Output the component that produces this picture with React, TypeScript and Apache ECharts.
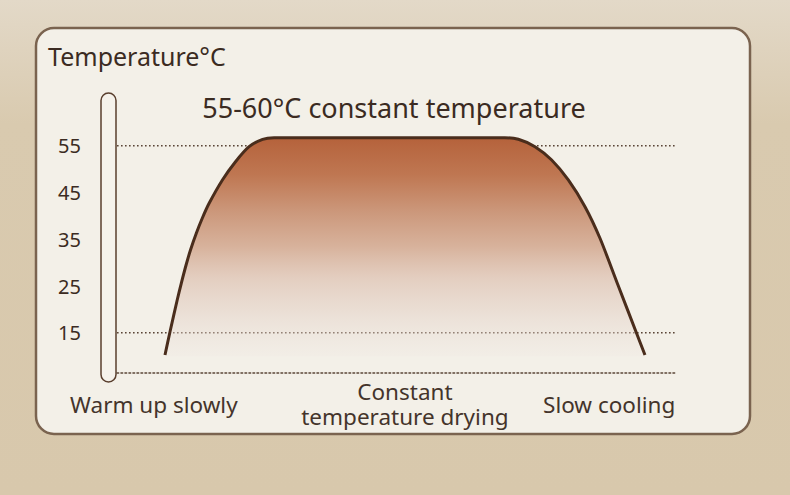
import React, { useEffect, useRef } from "react";
import * as echarts from "echarts";

// Curve: time position (0-100 across the plot) and temperature (°C)
const TIME_POINTS = [
  8.6, 9.5, 10.79, 11.52, 12.38, 13.17, 14.23, 15.3, 16.51, 18.89, 21.24, 23.67, 26.09, 28.14,
  69.5, 71.92, 74.91, 77.9, 80.88, 83.87, 86.56, 89.78, 93.01, 94.62,
];
const TEMPERATURES = [
  10.25, 15.23, 22.01, 25.59, 29.5, 32.71, 36.34, 39.55, 42.69, 47.68, 51.59, 54.8, 56.38, 56.72,
  56.72, 56.38, 54.8, 51.95, 47.68, 41.97, 35.21, 25.22, 15.23, 10.25,
];

const Y_TICKS = [15, 25, 35, 45, 55];
const GUIDE_LEVELS = [55, 15];
const PHASE_LABELS = ["Warm up slowly", "Constant\ntemperature drying", "Slow cooling"];
const PHASE_POSITIONS = [6.6, 51.6, 88.2];

const TITLE = "Temperature°C";
const SUBTITLE = "55-60°C constant temperature";

const FONT = "'Noto Sans', 'Open Sans', sans-serif";
const TEXT_DARK = "#3b2b22";

export default function App() {
  const ref = useRef<HTMLDivElement>(null);

  useEffect(() => {
    if (!ref.current) return;
    const chart = echarts.init(ref.current, undefined, { renderer: "svg" });
    const curve = TIME_POINTS.map((t, i) => [t, TEMPERATURES[i]]);

    const guideSeries = GUIDE_LEVELS.map((lvl) => ({
      type: "line",
      data: [
        [0, lvl],
        [100, lvl],
      ],
      symbol: "none",
      silent: true,
      z: 1,
      lineStyle: { color: "#5a4536", width: 1.6, type: [1.6, 2.4] },
    }));

    chart.setOption({
      animation: false,
      backgroundColor: "transparent",
      graphic: [
        {
          type: "rect",
          z: -10,
          shape: { x: 0, y: 0, width: 790, height: 495 },
          style: {
            fill: new echarts.graphic.LinearGradient(0, 0, 0, 1, [
              { offset: 0, color: "#e3d9c8" },
              { offset: 0.25, color: "#d9caaf" },
              { offset: 1, color: "#d8c8ac" },
            ]),
          },
        },
        {
          type: "rect",
          z: -9,
          shape: { x: 36, y: 28, width: 714, height: 406, r: 18 },
          style: { fill: "#f3f0e8", stroke: "#7a634f", lineWidth: 2.5 },
        },
        {
          type: "rect",
          z: -8,
          shape: { x: 101, y: 93, width: 15, height: 289, r: 7.5 },
          style: { fill: "#f5f2eb", stroke: "#5a3f2e", lineWidth: 1.5 },
        },
        {
          type: "text",
          left: 48,
          top: 43,
          style: { text: TITLE, font: `25px ${FONT}`, fill: TEXT_DARK },
        },
        {
          type: "text",
          x: 394,
          y: 107,
          style: {
            text: SUBTITLE,
            font: `27px ${FONT}`,
            fill: TEXT_DARK,
            align: "center",
            verticalAlign: "middle",
          },
        },
      ],
      grid: { left: 117, right: 115, top: 99, bottom: 122, containLabel: false },
      xAxis: {
        type: "value",
        min: 0,
        max: 100,
        splitLine: { show: false },
        axisTick: { show: false },
        axisLine: {
          show: true,
          lineStyle: { color: "#5a4536", width: 1.6, type: [1.6, 2.4] },
        },
        axisLabel: {
          customValues: PHASE_POSITIONS,
          formatter: (v: number) => {
            const i = PHASE_POSITIONS.findIndex((p) => Math.abs(p - v) < 0.01);
            return i >= 0 ? PHASE_LABELS[i] : "";
          },
          margin: 31,
          verticalAlign: "middle",
          align: "center",
          fontSize: 22.5,
          lineHeight: 25,
          fontFamily: FONT,
          color: "#44342b",
        },
      },
      yAxis: {
        type: "value",
        min: 6.4,
        max: 65,
        splitLine: { show: false },
        axisLine: { show: false },
        axisTick: { show: false },
        axisLabel: {
          customValues: Y_TICKS,
          margin: 36,
          fontSize: 20,
          fontFamily: FONT,
          color: TEXT_DARK,
        },
      },
      series: [
        ...guideSeries,
        {
          type: "line",
          data: curve,
          z: 3,
          symbol: "none",
          smooth: 0.25,
          lineStyle: { color: "#4a2d1c", width: 3 },
          areaStyle: {
            origin: 10,
            opacity: 1,
            color: new echarts.graphic.LinearGradient(0, 0, 0, 1, [
              { offset: 0, color: "rgba(181,98,59,1)" },
              { offset: 0.17, color: "rgba(191,119,82,1)" },
              { offset: 0.33, color: "rgba(203,150,121,1)" },
              { offset: 0.5, color: "rgba(214,175,152,0.95)" },
              { offset: 0.64, color: "rgba(222,194,178,0.75)" },
              { offset: 0.78, color: "rgba(226,205,193,0.55)" },
              { offset: 0.9, color: "rgba(232,218,210,0.4)" },
              { offset: 1, color: "rgba(240,232,226,0.3)" },
            ]),
          },
        },
      ],
    });

    return () => chart.dispose();
  }, []);

  return (
    <div
      ref={ref}
      style={{ position: "absolute", left: 0, top: 0, width: 790, height: 495 }}
    />
  );
}
